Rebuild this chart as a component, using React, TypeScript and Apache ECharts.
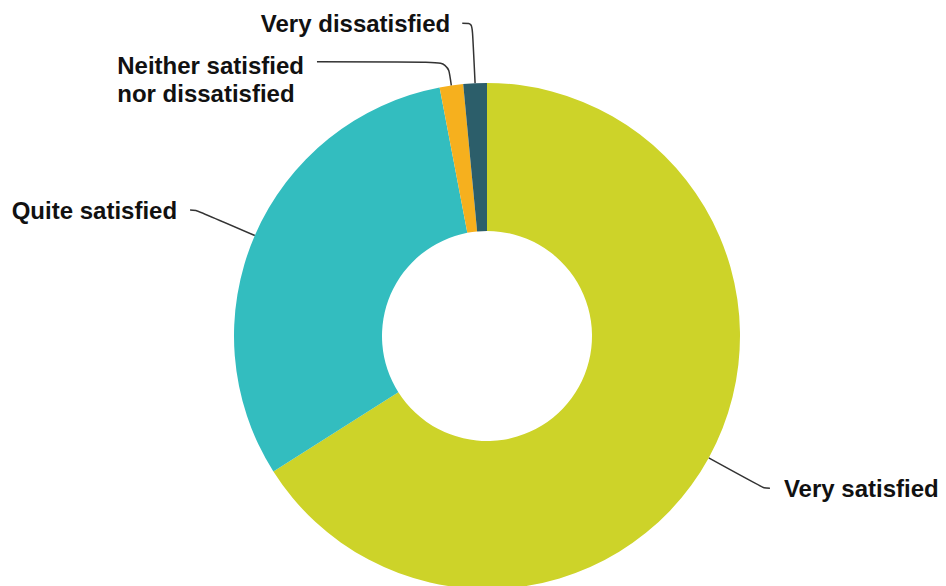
import React, { useEffect, useRef } from "react";
import * as echarts from "echarts";

const categories = [
  "Very satisfied",
  "Quite satisfied",
  "Neither satisfied\nnor dissatisfied",
  "Very dissatisfied",
];
const values = [66, 31, 1.5, 1.5];
const colors = ["#CDD329", "#33BDBF", "#F6B01E", "#2C5E6A"];

// label-line geometry per slice (styling, not data)
const lineLengths = [63, 64, 24, 60];
const lineLengths2 = [6, 6, 131, 10];
const lineDistances = [14, 13, 13, 12];
const labelPadTop = [0, 0, 36, 0];

const FONT = "'Liberation Sans', Arial, Helvetica, sans-serif";

export default function App() {
  const ref = useRef<HTMLDivElement>(null);

  useEffect(() => {
    document.body.style.margin = "0";
    if (!ref.current) return;
    const chart = echarts.init(ref.current, undefined, { renderer: "svg" });

    const data = categories.map((name, i) => ({
      name,
      value: values[i],
      itemStyle: { color: colors[i] },
      label: {
        distanceToLabelLine: lineDistances[i],
        padding: [labelPadTop[i], 0, 0, 0],
      },
      labelLine: { length: lineLengths[i], length2: lineLengths2[i] },
    }));

    chart.setOption({
      animation: false,
      backgroundColor: "#ffffff",
      series: [
        {
          type: "pie",
          center: [487, 336],
          radius: [105, 253],
          startAngle: 90,
          clockwise: true,
          avoidLabelOverlap: false,
          labelLayout: { hideOverlap: false, moveOverlap: null },
          itemStyle: { borderWidth: 0 },
          emphasis: { disabled: true },
          label: {
            show: true,
            position: "outside",
            color: "#111",
            fontFamily: FONT,
            fontWeight: "bold",
            fontSize: 24,
            lineHeight: 28,
            formatter: (p: any) =>
              String(p.name)
                .split("\n")
                .map((s: string) => `{a|${s}}`)
                .join("\n"),
            rich: {
              a: {
                align: "left",
                color: "#111",
                fontFamily: FONT,
                fontWeight: "bold",
                fontSize: 24,
                lineHeight: 28,
              },
            },
          },
          labelLine: {
            show: true,
            smooth: 0.3,
            lineStyle: { color: "#333", width: 1.5 },
          },
          data,
        },
      ],
    });

    return () => chart.dispose();
  }, []);

  return <div ref={ref} style={{ width: 946, height: 586 }} />;
}
